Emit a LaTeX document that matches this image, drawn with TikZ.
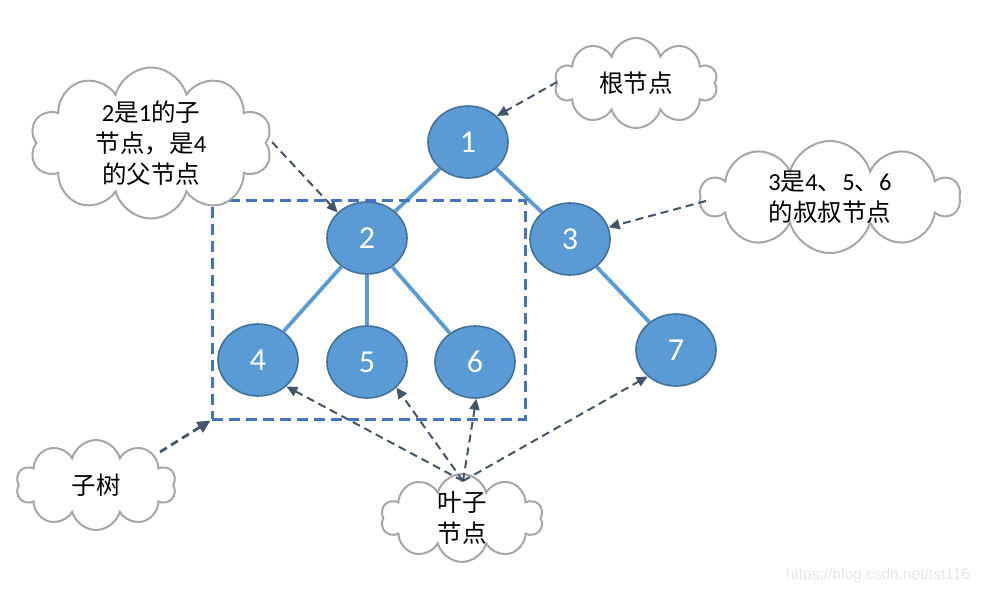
\documentclass[tikz,border=0pt]{standalone}
\usepackage{fontspec}
\setmainfont{Carlito}
\newfontfamily\cjk{Noto Sans CJK SC}
\newfontfamily\wmfont{Liberation Sans}
\usetikzlibrary{shapes.geometric,shapes.symbols,arrows.meta}
\definecolor{nodefill}{HTML}{5B9BD5}
\definecolor{nodeline}{HTML}{41719C}
\definecolor{arrowc}{HTML}{44546A}
\definecolor{boxc}{HTML}{4472C4}
\definecolor{cloudc}{HTML}{A6A6A6}
\definecolor{wmc}{HTML}{E6E6E6}
\begin{document}
\begin{tikzpicture}[x=1pt,y=-1pt,
 treenode/.style={ellipse, fill=nodefill, draw=nodeline, line width=1.6pt, minimum width=80pt, minimum height=72pt, inner sep=0pt, text=white, font=\fontsize{32}{34}\selectfont},
 treeedge/.style={draw=nodefill, line width=3.8pt},
 callout/.style={cloud, cloud puffs=10, cloud ignores aspect, draw=cloudc, line width=2pt, fill=white, inner sep=0pt, align=center, font=\fontsize{24.5}{31}\selectfont},
 pointer/.style={draw=arrowc, line width=2pt, dash pattern=on 8pt off 5pt, -{Triangle[length=11pt,width=10pt]}},
 boxline/.style={draw=boxc, line width=3pt, dash pattern=on 11pt off 6pt},
]
\useasboundingbox (0,0) rectangle (982,593);

% tree nodes
\node[treenode] (n1) at (468,142) {1};
\node[treenode] (n2) at (367,238) {2};
\node[treenode] (n3) at (570,239) {3};
\node[treenode] (n4) at (258,360) {4};
\node[treenode] (n5) at (367,362) {5};
\node[treenode] (n6) at (475,362) {6};
\node[treenode] (n7) at (676,350) {7};

% tree edges
\draw[treeedge] (n1) -- (n2);
\draw[treeedge] (n1) -- (n3);
\draw[treeedge] (n2) -- (n4);
\draw[treeedge] (n2) -- (n5);
\draw[treeedge] (n2) -- (n6);
\draw[treeedge] (n3) -- (n7);

% subtree box
\node[boxline, minimum width=313pt, minimum height=218pt, inner sep=0pt] (box) at (368.5,310) {};

% clouds
\node[callout, minimum width=163pt, minimum height=90pt] (croot) at (636,83) {\cjk 根节点};
\node[callout, minimum width=242pt, minimum height=137pt] (cchild) at (151,143) {2{\cjk 是}1{\cjk 的子}\\{\cjk 节点，是}4\\{\cjk 的父节点}};
\node[callout, minimum width=259pt, minimum height=87pt] (cuncle) at (830,197) {3{\cjk 是}4{\cjk 、}5{\cjk 、}6\\{\cjk 的叔叔节点}};
\node[callout, minimum width=160pt, minimum height=90pt] (csub) at (96,485) {\cjk 子树};
\node[callout, minimum width=162pt, minimum height=85pt] (cleaf) at (462,518) {{\cjk 叶子}\\{\cjk 节点}};

% pointer start points
\coordinate (sroot) at (557,82);
\coordinate (schild) at (272,142);
\coordinate (suncle) at (706,201);
\coordinate (ssub) at (160,452);
\coordinate (sleaf) at (463,481);

% pointers
\draw[pointer] (sroot) -- (n1.42);
\draw[pointer] (schild) -- (n2.139);
\draw[pointer] (suncle) -- (n3.17);
\draw[pointer, line width=2.8pt, -{Triangle[length=13pt,width=12pt]}] (ssub) -- (box.south west);
\draw[pointer] (sleaf) -- (n4.-43);
\draw[pointer] (sleaf) -- (n5.-41);
\draw[pointer] (sleaf) -- (n6.-88);
\draw[pointer] (sleaf) -- (n7.223);

% watermark
\node[font=\wmfont\fontsize{15.5}{17}\selectfont, text=wmc] (wm) at (878,575) {https://blog.csdn.net/tst116};
\end{tikzpicture}
\end{document}
